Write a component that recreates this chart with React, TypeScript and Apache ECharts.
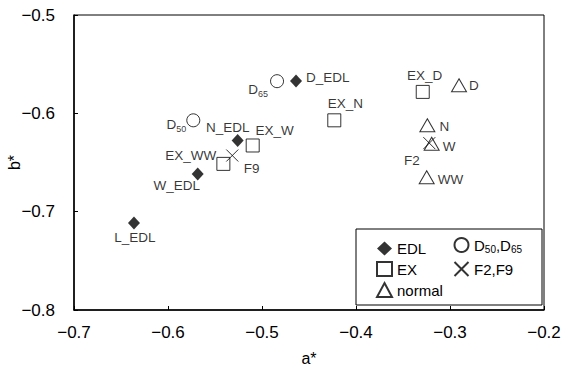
import React, { useEffect, useRef } from "react";
import * as echarts from "echarts";

// [a*, b*, label]
const edlPoints: [number, number, string][] = [
  [-0.4638, -0.567, "D_EDL"],
  [-0.5259, -0.6276, "N_EDL"],
  [-0.5684, -0.6616, "W_EDL"],
  [-0.6362, -0.7116, "L_EDL"],
];
const exPoints: [number, number, string][] = [
  [-0.329, -0.5782, "EX_D"],
  [-0.4231, -0.6071, "EX_N"],
  [-0.5099, -0.6327, "EX_W"],
  [-0.5411, -0.6514, "EX_WW"],
];
const normalPoints: [number, number, string][] = [
  [-0.2904, -0.5714, "D"],
  [-0.3241, -0.6122, "N"],
  [-0.3195, -0.6309, "W"],
  [-0.3248, -0.665, "WW"],
];
const dPoints: [number, number, string][] = [
  [-0.5731, -0.6071, "D50"],
  [-0.484, -0.5673, "D65"],
];
const fPoints: [number, number, string][] = [
  [-0.322, -0.6303, "F2"],
  [-0.5316, -0.6429, "F9"],
];
const seriesNames = ["EDL", "EX", "normal", "D", "F"];
const legendTexts: Record<string, string> = {
  EDL: "EDL",
  EX: "EX",
  normal: "normal",
  D: "D{s|50},D{s|65}",
  F: "F2,F9",
};

const labelText: Record<string, string> = {
  D50: "D{s|50}",
  D65: "D{s|65}",
};

const labelPlacement: Record<string, any> = {
  D_EDL: { position: "right", distance: 4, offset: [0, -3] },
  N_EDL: { position: "top", distance: -1, offset: [-10, 0] },
  W_EDL: { position: "bottom", distance: -2, offset: [-21, 0] },
  L_EDL: { position: "bottom", distance: 1, offset: [1, 0] },
  EX_D: { position: "top", distance: 2, offset: [2, 0] },
  EX_N: { position: "top", distance: 3, offset: [11, 0] },
  EX_W: { position: "top", distance: 1, offset: [22, 0] },
  EX_WW: { position: "left", distance: 0, offset: [0, -8] },
  D: { position: "right", distance: 2, offset: [0, 0] },
  N: { position: "right", distance: 4, offset: [0, 1] },
  W: { position: "right", distance: 3, offset: [0, 3] },
  WW: { position: "right", distance: 3, offset: [0, 2] },
  D50: { position: "left", distance: 0, offset: [0, 4] },
  D65: { position: "left", distance: 2, offset: [0, 8] },
  F2: { position: "left", distance: 1, offset: [0, 17] },
  F9: { position: "right", distance: 3, offset: [0, 13] },
};

const FONT = "Liberation Sans, Arial, sans-serif";

function toData(pts: [number, number, string][]) {
  return pts.map(([a, b, n]) => ({
    value: [a, b],
    name: n,
    label: {
      show: true,
      formatter: labelText[n] || n,
      color: "#000",
      fontSize: 13.5,
      fontFamily: FONT,
      rich: { s: { fontSize: 9, fontFamily: FONT, color: "#000", padding: [9, 0, 0, 0] } },
      ...labelPlacement[n],
    },
  }));
}

export default function App() {
  const ref = useRef<HTMLDivElement>(null);
  useEffect(() => {
    const chart = echarts.init(ref.current!, null, { renderer: "svg" });
    const fmt = (v: number) => v.toFixed(1).replace("-", "\u2212");
    const hollow = { color: "#fff", borderColor: "#000", borderWidth: 1 };
    chart.setOption({
      animation: false,
      backgroundColor: "#fff",
      textStyle: { fontFamily: FONT },
      grid: {
        left: 74,
        top: 15,
        right: 19,
        bottom: 60,
        show: true,
        borderColor: "#000",
        borderWidth: 1,
        outerBoundsMode: "none",
        containLabel: false,
      },
      xAxis: {
        type: "value",
        min: -0.7,
        max: -0.2,
        interval: 0.1,
        name: "a*",
        nameLocation: "middle",
        nameGap: 40,
        nameMoveOverlap: false,
        nameTextStyle: { fontSize: 16, color: "#000", fontFamily: FONT },
        axisLine: { lineStyle: { color: "#000", width: 1.5 } },
        axisTick: { inside: true, length: 4, lineStyle: { color: "#000" } },
        axisLabel: {
          formatter: fmt,
          color: "#000",
          fontSize: 17,
          margin: 14,
          fontFamily: FONT,
          showMinLabel: true,
          showMaxLabel: true,
          hideOverlap: false,
        },
        splitLine: { show: false },
      },
      yAxis: {
        type: "value",
        min: -0.8,
        max: -0.5,
        interval: 0.1,
        name: "b*",
        nameLocation: "middle",
        nameGap: 52,
        nameMoveOverlap: false,
        nameTextStyle: { fontSize: 16, color: "#000", fontFamily: FONT },
        axisLine: { lineStyle: { color: "#000", width: 1.5 } },
        axisTick: { inside: true, length: 4, lineStyle: { color: "#000" } },
        axisLabel: { formatter: fmt, color: "#000", fontSize: 17, margin: 19, fontFamily: FONT },
        splitLine: { show: false },
      },
      graphic: [
        {
          type: "rect",
          shape: { x: 356, y: 229, width: 186, height: 76 },
          style: { fill: "#fff", stroke: "#000", lineWidth: 1 },
          z: 50,
        },
      ],
      legend: [
        {
          data: ["EDL", "EX", "normal"],
          orient: "vertical",
          left: 371,
          top: 236,
          itemWidth: 15,
          itemHeight: 14,
          itemGap: 5,
          z: 60,
          formatter: (n: string) => legendTexts[n],
          textStyle: { fontSize: 15, color: "#000", fontFamily: FONT },
        },
        {
          data: ["D", "F"],
          orient: "vertical",
          left: 447,
          top: 232,
          itemWidth: 15,
          itemHeight: 14,
          itemGap: 5,
          z: 60,
          formatter: (n: string) => legendTexts[n],
          textStyle: {
            fontSize: 15,
            color: "#000",
            fontFamily: FONT,
            rich: { s: { fontSize: 10, fontFamily: FONT, color: "#000", padding: [9, 0, 0, 0] } },
          },
        },
      ],
      series: [
        {
          name: seriesNames[0],
          type: "scatter",
          symbol: "diamond",
          symbolSize: [12, 13],
          itemStyle: { color: "#000" },
          data: toData(edlPoints),
        },
        {
          name: seriesNames[1],
          type: "scatter",
          symbol: "rect",
          symbolSize: 13,
          itemStyle: hollow,
          data: toData(exPoints),
        },
        {
          name: seriesNames[2],
          type: "scatter",
          symbol: "triangle",
          symbolSize: [15, 13],
          itemStyle: hollow,
          data: toData(normalPoints),
        },
        {
          name: seriesNames[3],
          type: "scatter",
          symbol: "circle",
          symbolSize: 13,
          itemStyle: hollow,
          data: toData(dPoints),
        },
        {
          name: seriesNames[4],
          type: "scatter",
          symbol: "path://M0,0L10,10M10,0L0,10",
          symbolSize: 12,
          itemStyle: { color: "none", borderColor: "#000", borderWidth: 1 },
          data: toData(fPoints),
        },
      ],
    });
    return () => chart.dispose();
  }, []);
  return (
    <div
      ref={ref}
      style={{ position: "absolute", left: 0, top: 0, width: 563, height: 370 }}
    />
  );
}
